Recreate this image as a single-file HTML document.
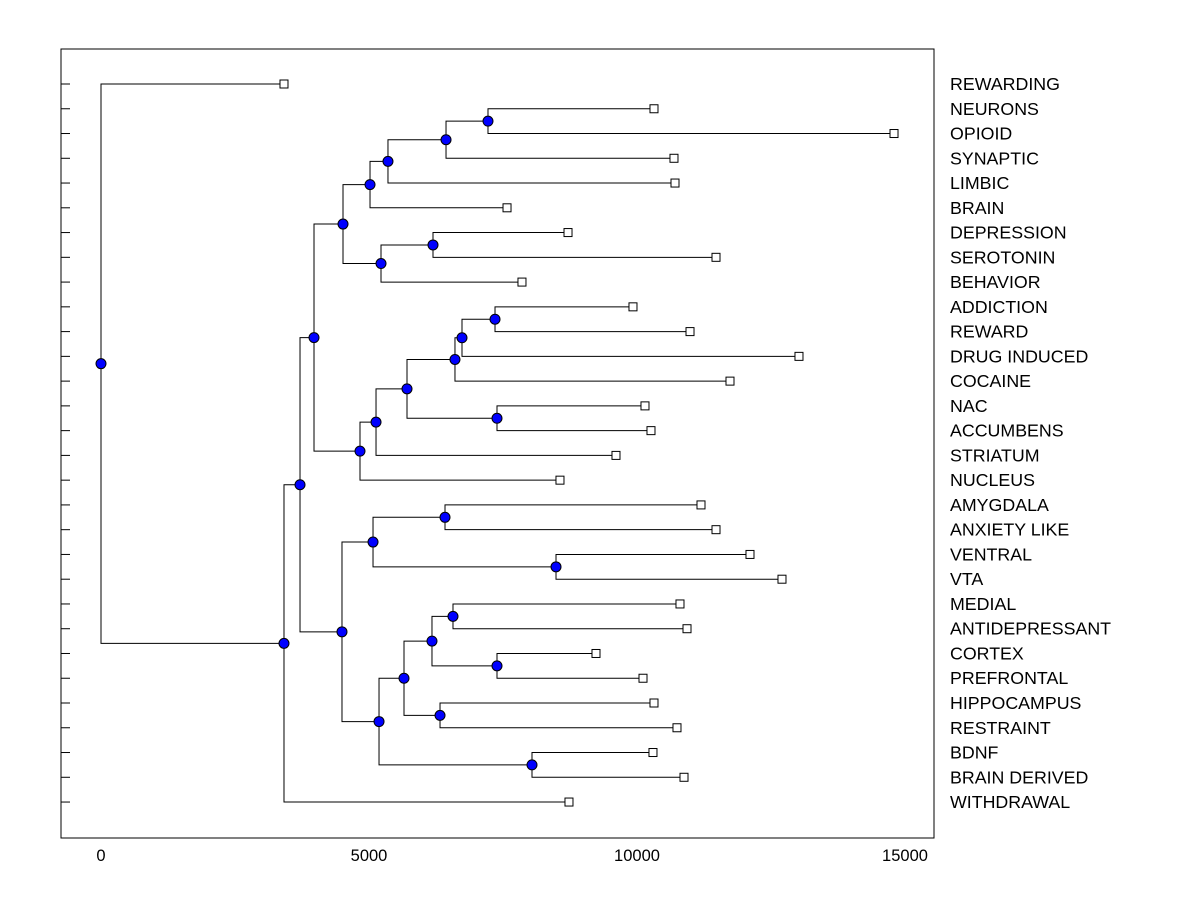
<!DOCTYPE html>
<html><head><meta charset="utf-8"><style>
html,body{margin:0;padding:0;background:#fff;}
svg{display:block;font-family:"Liberation Sans",Arial,sans-serif;}
</style></head><body>
<svg id="chart" width="1200" height="900">
<rect x="61" y="49" width="873" height="789" fill="none" stroke="#000" stroke-width="1"/>
<g id="ticks"></g><g id="links"></g><g id="marks"></g><g id="labels"></g>
</svg>
<script>
const leafLabels = ["REWARDING","NEURONS","OPIOID","SYNAPTIC","LIMBIC","BRAIN","DEPRESSION","SEROTONIN","BEHAVIOR","ADDICTION","REWARD","DRUG INDUCED","COCAINE","NAC","ACCUMBENS","STRIATUM","NUCLEUS","AMYGDALA","ANXIETY LIKE","VENTRAL","VTA","MEDIAL","ANTIDEPRESSANT","CORTEX","PREFRONTAL","HIPPOCAMPUS","RESTRAINT","BDNF","BRAIN DERIVED","WITHDRAWAL"];
const leafValues = [3414,10317,14795,10690,10709,7575,8713,11474,7854,9925,10989,13022,11735,10149,10261,9608,8563,11194,11474,12108,12705,10802,10933,9235,10112,10317,10746,10298,10877,8731];
// merges: [childA, childB] (leaf indices 0..29, internal nodes 30+ in order)
const mergeChildren = [
 [1,2],[30,3],[31,4],[32,5],
 [6,7],[34,8],[33,35],
 [9,10],[37,11],[38,12],[13,14],[39,40],[41,15],[42,16],
 [36,43],
 [17,18],[19,20],[45,46],
 [21,22],[23,24],[48,49],[25,26],[50,51],[27,28],[52,53],
 [47,54],[44,55],[56,29],[0,57]
];
const mergeValues = [7220,6437,5354,5019,6194,5224,4515,7351,6735,6604,7388,5709,5131,4832,3974,6418,8489,5075,6567,7388,6175,6325,5653,8041,5187,4496,3713,3414,0];
const xTicks = [0,5000,10000,15000];

const NS="http://www.w3.org/2000/svg";
const xs = v => 101 + v*0.0536;
const rowY = i => 84 + i*24.76;
function mk(tag, attrs, parent){const e=document.createElementNS(NS,tag);for(const k in attrs)e.setAttribute(k,attrs[k]);document.getElementById(parent).appendChild(e);return e;}

const nx=[], ny=[];
leafLabels.forEach((l,i)=>{nx.push(xs(leafValues[i]));ny.push(rowY(i));});
mergeChildren.forEach((c,j)=>{nx.push(xs(mergeValues[j]));ny.push((ny[c[0]]+ny[c[1]])/2);});

leafLabels.forEach((l,i)=>{
 const t=mk('line',{x1:61,x2:70,y1:rowY(i),y2:rowY(i),stroke:'#000'},'ticks');
 
 
});
xTicks.forEach(v=>{
 const t=mk('text',{x:xs(v),y:861,'text-anchor':'middle','font-size':'16.5'},'labels');
 t.textContent=v;
 
 
});
mergeChildren.forEach((c,j)=>{
 const id=30+j, x=nx[id];
 const p=mk('path',{d:`M${nx[c[0]]},${ny[c[0]]}H${x}V${ny[c[1]]}H${nx[c[1]]}`,fill:'none',stroke:'#000','stroke-width':1},'links');
 
 
});
mergeChildren.forEach((c,j)=>{
 const id=30+j;
 const m=mk('circle',{cx:nx[id],cy:ny[id],r:5,fill:'#0000ff',stroke:'#000','stroke-width':1},'marks');
 
 
});
leafLabels.forEach((l,i)=>{
 const s=mk('rect',{x:nx[i]-4,y:ny[i]-4,width:8,height:8,fill:'#fff',stroke:'#000','stroke-width':1},'marks');
 
 
 const t=mk('text',{x:950,y:ny[i]+6,'font-size':'17.8'},'labels');
 t.textContent=l;
 
 
});
</script>
</body></html>
